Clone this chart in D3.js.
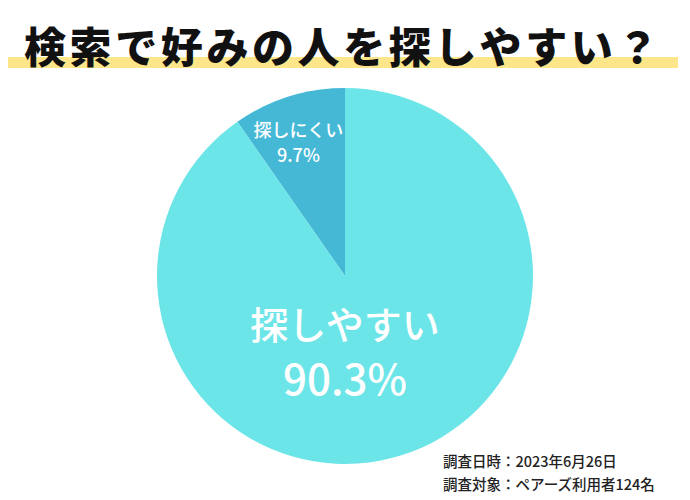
<!DOCTYPE html>
<html><head><meta charset="utf-8">
<script src="https://cdn.jsdelivr.net/npm/d3@7"></script>
<style>body{margin:0;background:#fff;}svg{display:block;font-family:"Noto Sans CJK JP","Noto Sans",sans-serif;}</style>
</head><body>
<svg id="c" width="690" height="500"></svg>
<script>
const categories = ["探しにくい", "探しやすい"];
const values = [9.7, 90.3];
const colors = ["#45b8d6", "#6ce5e8"];
const title = "検索で好みの人を探しやすい？";
const notes = ["調査日時：2023年6月26日", "調査対象：ペアーズ利用者124名"];

const svg = d3.select("#c");
svg.append("rect").attr("x", 8).attr("y", 57).attr("width", 670).attr("height", 11).attr("fill", "#fde68a");
svg.append("text").attr("x", 343).attr("y", 63).attr("text-anchor", "middle")
  .attr("font-size", 42).attr("font-weight", 900).attr("letter-spacing", 3.6).attr("fill", "#111").text(title);

const cx = 345, cy = 276, r = 188;
const data = categories.map((c, i) => ({c, v: values[i], col: colors[i]}));
const pie = d3.pie().value(d => d.v).sort(null).startAngle(-values[0] / 100 * 2 * Math.PI).endAngle(2 * Math.PI - values[0] / 100 * 2 * Math.PI);
const arcs = pie(data);
const arc = d3.arc().innerRadius(0).outerRadius(r);
const g = svg.append("g").attr("transform", `translate(${cx},${cy})`);
g.selectAll("path").data(arcs).join("path").attr("d", arc).attr("fill", d => d.data.col);

// labels
const small = arcs[0];
const sArc = d3.arc().innerRadius(r * 0.72).outerRadius(r * 0.72);
const sp = sArc.centroid(small);
const sl = g.append("text").attr("fill", "#fff").attr("text-anchor", "middle").attr("font-size", 18).attr("font-weight", 500);
sl.append("tspan").attr("x", sp[0] - 6).attr("y", sp[1] - 10).text(small.data.c);
sl.append("tspan").attr("x", sp[0] - 6).attr("y", sp[1] + 15).text(small.data.v.toFixed(1) + "%");

const big = arcs[1];
const bl = g.append("text").attr("fill", "#fff").attr("text-anchor", "middle").attr("font-weight", 500);
bl.append("tspan").attr("x", 0).attr("y", 63).attr("font-size", 38).text(big.data.c);
bl.append("tspan").attr("x", 0).attr("y", 119).attr("font-size", 42).text(big.data.v.toFixed(1) + "%");

svg.selectAll("text.note").data(notes).join("text").attr("class", "note")
  .attr("x", 443).attr("y", (d, i) => 467 + i * 23).attr("font-size", 14.5).attr("font-weight", 500).attr("fill", "#222").text(d => d);
</script>
</body></html>
